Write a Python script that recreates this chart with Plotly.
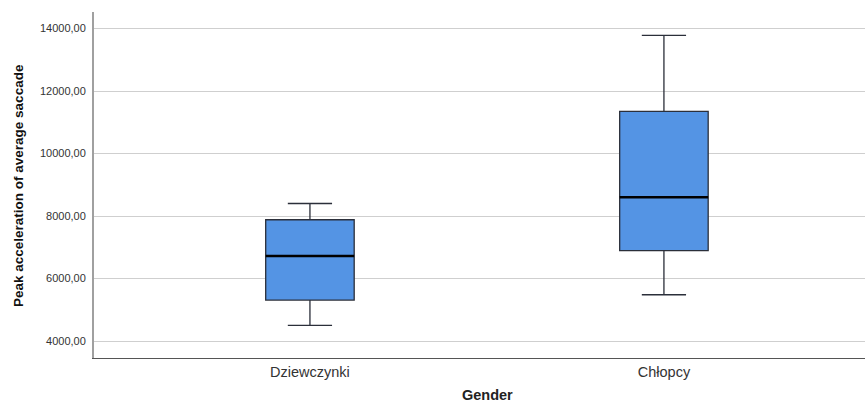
import plotly.graph_objects as go

categories = ["Dziewczynki", "Chłopcy"]
lower_whisker = [4500, 5480]
q1 = [5310, 6890]
median = [6720, 8600]
q3 = [7880, 11350]
upper_whisker = [8400, 13780]

y_tick_vals = [4000, 6000, 8000, 10000, 12000, 14000]
y_tick_text = ["4000,00", "6000,00", "8000,00", "10000,00", "12000,00", "14000,00"]

x_pos = list(range(len(categories)))
box_w = 0.25

fig = go.Figure()
fig.add_trace(go.Box(
    x=x_pos, q1=q1, median=median, q3=q3,
    lowerfence=lower_whisker, upperfence=upper_whisker,
    width=box_w, whiskerwidth=0.5,
    fillcolor="#5494e4",
    line=dict(color="#2b2f3a", width=1.3),
    boxpoints=False, showlegend=False, hoverinfo="skip",
))
for xi, m in zip(x_pos, median):
    fig.add_trace(go.Scatter(
        x=[xi - box_w / 2, xi + box_w / 2], y=[m, m], mode="lines",
        line=dict(color="#000000", width=2.6), showlegend=False, hoverinfo="skip",
    ))

fig.update_layout(
    width=865, height=403,
    margin=dict(l=94, r=0, t=12, b=45),
    paper_bgcolor="white", plot_bgcolor="white",
    font=dict(family="Liberation Sans, Arial, sans-serif", color="#333333"),
    xaxis=dict(
        range=[-0.61, 1.568], tickvals=x_pos, ticktext=categories,
        showgrid=False, zeroline=False, automargin=False,
        showline=True, linecolor="#555555", linewidth=1.2,
        ticks="", 
        tickfont=dict(size=14.5, color="#333333"),
    ),
    yaxis=dict(
        range=[3456, 14528], tickvals=y_tick_vals, ticktext=y_tick_text,
        showgrid=True, gridcolor="#cfcfcf", gridwidth=1, zeroline=False, automargin=False,
        showline=True, linecolor="#a0a0a0", linewidth=2,
        ticks="outside", ticklen=4, tickcolor="rgba(0,0,0,0)",
        tickfont=dict(size=11, color="#333333"),
    ),
    annotations=[
        dict(text="<b>Gender</b>", x=487, y=395, xref="paper", yref="paper",
             showarrow=False, font=dict(size=14.5, color="#222222")),
        dict(text="<b>Peak acceleration of average saccade</b>", textangle=-90,
             x=18, y=186, showarrow=False,
             font=dict(size=13.5, color="#111111")),
    ],
)
# convert annotation pixel positions to paper coordinates
pw, ph = 865 - 94 - 0, 403 - 12 - 45
for a in fig.layout.annotations:
    px, py = a.x, a.y
    a.x = (px - 94) / pw
    a.y = 1 - (py - 12) / ph
    a.xref = "paper"
    a.yref = "paper"
    a.xanchor = "center"
    a.yanchor = "middle"

fig.write_html("out.html", config={"displayModeBar": False},
               post_script="document.body.style.margin='0px';")
